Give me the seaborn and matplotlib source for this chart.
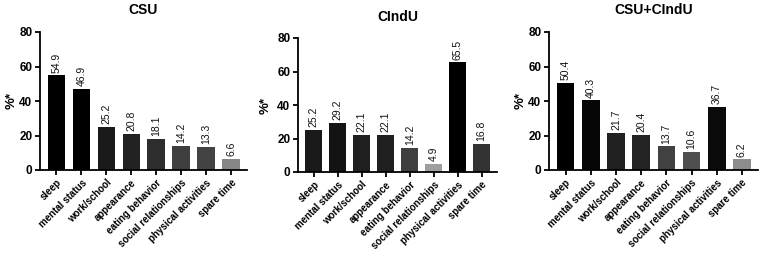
import matplotlib
matplotlib.use("Agg")
import matplotlib.pyplot as plt
import seaborn as sns
import numpy as np

categories = ["sleep", "mental status", "work/school", "appearance",
              "eating behavior", "social relationships", "physical activities", "spare time"]
titles = ["CSU", "CIndU", "CSU+CIndU"]
csu = [54.9, 46.9, 25.2, 20.8, 18.1, 14.2, 13.3, 6.6]
cindu = [25.2, 29.2, 22.1, 22.1, 14.2, 4.9, 65.5, 16.8]
csu_cindu = [50.4, 40.3, 21.7, 20.4, 13.7, 10.6, 36.7, 6.2]
yticks = [0, 20, 40, 60, 80]
ylabel = "%*"

sns.set_style("ticks")
plt.rcParams['font.family'] = ['Liberation Sans', 'DejaVu Sans']
plt.rcParams['text.color'] = 'black'
plt.rcParams['axes.labelcolor'] = 'black'
plt.rcParams['xtick.color'] = 'black'
plt.rcParams['ytick.color'] = 'black'

W, H = 760, 257
fig = plt.figure(figsize=(W / 100, H / 100), dpi=100)

# axes boxes in pixels: left, right, top, bottom
boxes = [(40, 247, 32, 170), (298, 497, 38, 172), (549, 758, 32, 170)]
title_y = [10, 17, 10]
ylabel_x = [12, 266, 521]


def gray_for(v):
    g = np.interp(v, [5, 10, 14, 20, 30, 45], [0.62, 0.32, 0.25, 0.14, 0.07, 0.0])
    return (g, g, g)


for vals, title, box, ty, lx in zip([csu, cindu, csu_cindu], titles, boxes, title_y, ylabel_x):
    l, r, t, b = box
    ax = fig.add_axes([l / W, 1 - b / H, (r - l) / W, (b - t) / H])
    pal = [gray_for(v) for v in vals]
    sns.barplot(x=categories, y=vals, hue=categories, palette=pal, legend=False,
                ax=ax, width=0.7, saturation=1, edgecolor='none')
    for c in ax.containers:
        ax.bar_label(c, fmt='%.1f', rotation=90, padding=2, fontsize=7.5, color='#111111')
    ax.set_ylim(0, 80)
    ax.set_yticks(yticks)
    ax.set_xlim(-0.66, 7.64)
    ax.set_yticklabels([str(v) for v in yticks], fontsize=8.5, fontweight='bold')
    ax.set_xticks(range(len(categories)))
    ax.set_xticklabels(categories, rotation=45, ha='right', rotation_mode='anchor',
                       fontsize=7, fontweight='bold')
    sns.despine(ax=ax)
    for s in ['left', 'bottom']:
        ax.spines[s].set_linewidth(1.3)
        ax.spines[s].set_color('black')
    ax.tick_params(axis='both', width=1.3, length=3.5, color='black', pad=2)
    ax.set_xlabel("")
    ax.set_ylabel("")
    fig.text((l + r) / 2 / W, 1 - ty / H, title, ha='center', va='center',
             fontsize=10, fontweight='bold')
    fig.text(lx / W, 1 - (t + b) / 2 / H, ylabel, ha='center', va='center',
             rotation=90, fontsize=9.5, fontweight='bold')

fig.savefig("out.png", dpi=100)
